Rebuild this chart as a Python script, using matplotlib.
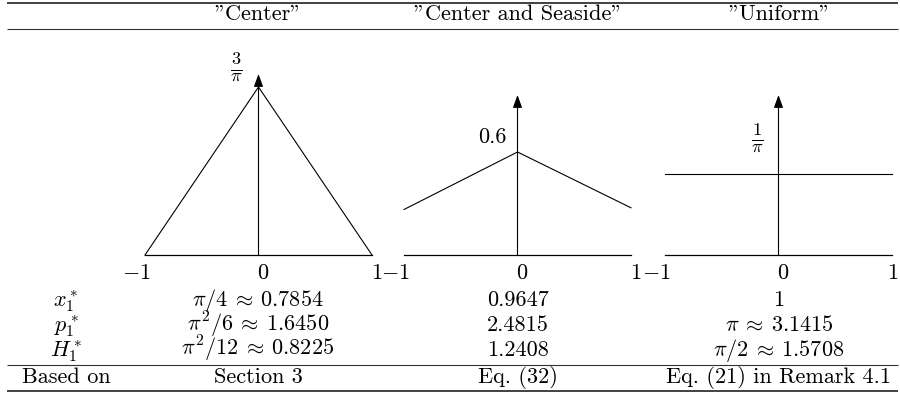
import numpy as np
import matplotlib
matplotlib.use("Agg")
from matplotlib import pyplot as plt
from matplotlib.transforms import ScaledTranslation

plt.rcParams['mathtext.fontset'] = 'cm'
plt.rcParams['font.family'] = ['cmr10', 'DejaVu Serif']
plt.rcParams['axes.unicode_minus'] = False

# table content
headers = ['"Center"', '"Center and Seaside"', '"Uniform"']
row_labels = [r'$x_1^*$', r'$p_1^*$', r'$H_1^*$']
col_values = [
    [r'$\pi/4 \:\approx\: 0.7854$', r'$\pi^2/6 \:\approx\: 1.6450$', r'$\pi^2/12 \:\approx\: 0.8225$'],
    ['0.9647', '2.4815', '1.2408'],
    ['1', r'$\pi \:\approx\: 3.1415$', r'$\pi/2 \:\approx\: 1.5708$'],
]
based_label = 'Based on'
based_on = ['Section 3', 'Eq. (32)', 'Eq. (21) in Remark 4.1']

# densities drawn in the three panels
x_pts = [-1, 0, 1]
center_y = [0.0, 0.955, 0.0]
seaside_y = [0.265, 0.6, 0.275]
uniform_y = [0.318, 0.318, 0.318]
panel_y = [center_y, seaside_y, uniform_y]
tick_vals = [-1, 0, 1]
tick_text = [r'$-1$', r'$0$', r'$1$']
ylabels = [r'$\frac{3}{\pi}$', '0.6', r'$\frac{1}{\pi}$']

W, H = 900, 396
fig = plt.figure(figsize=(W / 100, H / 100), dpi=100)

# background axes in pixel units for the table
bg = fig.add_axes([0, 0, 1, 1])
bg.set_xlim(0, W)
bg.set_ylim(H, 0)
bg.axis('off')

col_x = [66, 258, 518, 779]
fs = 16

for y, lw in [(3, 1.3), (29, 0.8), (365, 0.8), (391, 1.3)]:
    bg.plot([7, 898], [y, y], color='#333333', lw=lw, solid_capstyle='butt')

for cx, h in zip(col_x[1:], headers):
    bg.text(cx, 20, h, ha='center', va='baseline', fontsize=fs)

row_base = [306, 331, 356]
for yb, lab in zip(row_base, row_labels):
    bg.text(col_x[0], yb, lab, ha='center', va='baseline', fontsize=fs)
for cx, vals in zip(col_x[1:], col_values):
    for yb, v in zip(row_base, vals):
        bg.text(cx, yb, v, ha='center', va='baseline', fontsize=fs)

bg.text(col_x[0], 383, based_label, ha='center', va='baseline', fontsize=fs)
for cx, b in zip(col_x[1:], based_on):
    bg.text(cx, 383, b, ha='center', va='baseline', fontsize=fs)

# panels: (left px, right px, top px of arrow, ymax)
panels = [(145, 372, 74, 1.029), (404, 631, 95, 0.932), (665, 892, 95, 0.628)]
label_pos = [(236, 67), (492, 143), (757, 138)]
base_px = 255

for i, (l, r, top, ymax) in enumerate(panels):
    ax = fig.add_axes([l / W, (H - base_px) / H, (r - l) / W, (base_px - top) / H])
    ax.set_xlim(-1, 1)
    ax.set_ylim(0, ymax)
    ax.patch.set_alpha(0)
    for s in ['top', 'right', 'left']:
        ax.spines[s].set_visible(False)
    ax.spines['bottom'].set_linewidth(0.9)
    ax.set_xticks([])
    ax.set_yticks([])
    ax.plot(x_pts, panel_y[i], color='k', lw=0.8, clip_on=False)
    ax.annotate('', xy=(0, ymax), xytext=(0, 0),
                arrowprops=dict(arrowstyle='-|>,head_length=0.55,head_width=0.2',
                                color='k', lw=0.8, shrinkA=0, shrinkB=0,
                                mutation_scale=14))
    for tv, tt in zip(tick_vals, tick_text):
        dx = -9 if tv < 0 else 5
        if i == 2 and tv == 1:
            dx = 1
        off = ScaledTranslation(dx / 100, -24 / 100, fig.dpi_scale_trans)
        ax.text(tv, 0, tt, transform=ax.transData + off, ha='center',
                va='baseline', fontsize=fs)
    lx, ly = label_pos[i]
    if i == 1:
        bg.text(lx, ly, ylabels[i], ha='center', va='baseline', fontsize=fs)
    else:
        bg.text(lx, ly, ylabels[i], ha='center', va='center', fontsize=19)

fig.savefig('out.png', dpi=100)
